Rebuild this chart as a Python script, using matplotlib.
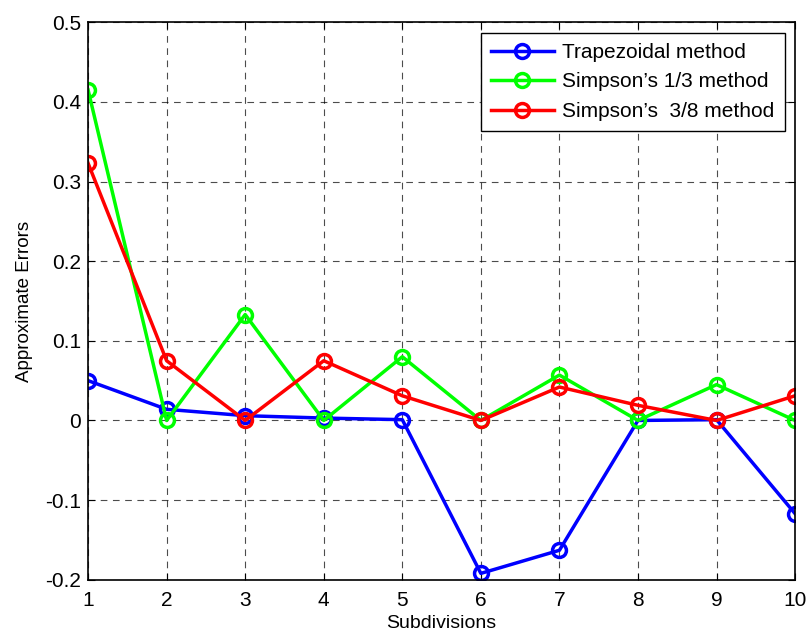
import matplotlib
matplotlib.use("Agg")
import matplotlib.pyplot as plt

plt.rcParams['font.family'] = ['Liberation Sans', 'DejaVu Sans']

subdivisions = [1, 2, 3, 4, 5, 6, 7, 8, 9, 10]
trapezoidal = [0.050, 0.014, 0.006, 0.003, 0.001, -0.192, -0.163, 0.000, 0.001, -0.117]
simpson13 = [0.415, 0.000, 0.133, 0.000, 0.080, 0.000, 0.057, 0.000, 0.045, 0.000]
simpson38 = [0.323, 0.075, 0.000, 0.075, 0.031, 0.000, 0.042, 0.019, 0.000, 0.031]

series = [
    (trapezoidal, '#0000ff', 'Trapezoidal method'),
    (simpson13, '#00ff00', 'Simpson\u2019s 1/3 method'),
    (simpson38, '#ff0000', 'Simpson\u2019s  3/8 method'),
]

fig = plt.figure(figsize=(8.08, 6.35), dpi=100)
ax = fig.add_axes([0.109, 0.087, 0.875, 0.878])

for vals, color, label in series:
    ax.plot(subdivisions, vals, color=color, lw=2.5, marker='o', markersize=10,
            markerfacecolor='none', markeredgewidth=2.5, label=label)

ax.set_xlim(1, 10)
ax.set_ylim(-0.2, 0.5)
ax.set_xticks(subdivisions)
ax.set_yticks([-0.2, -0.1, 0, 0.1, 0.2, 0.3, 0.4, 0.5])
ax.set_yticklabels(['-0.2', '-0.1', '0', '0.1', '0.2', '0.3', '0.4', '0.5'])
ax.tick_params(direction='in', labelsize=15, length=5, top=True, right=True, pad=5)
ax.tick_params(axis='x', pad=8)
ax.grid(True, color='black', linestyle=(0, (6, 5)), lw=0.8, alpha=0.7)
for s in ax.spines.values():
    s.set_linewidth(1.2)

ax.set_xlabel('Subdivisions', fontsize=14, labelpad=4)
ax.set_ylabel('Approximate Errors', fontsize=13.5, labelpad=9)

leg = ax.legend(loc='upper right', fontsize=15, frameon=True, fancybox=False,
                edgecolor='black', framealpha=1, handlelength=3.0,
                handletextpad=0.4, borderaxespad=0.5, labelspacing=0.5,
                borderpad=0.5)
leg.get_frame().set_linewidth(1.0)

fig.savefig('out.png', dpi=100)
